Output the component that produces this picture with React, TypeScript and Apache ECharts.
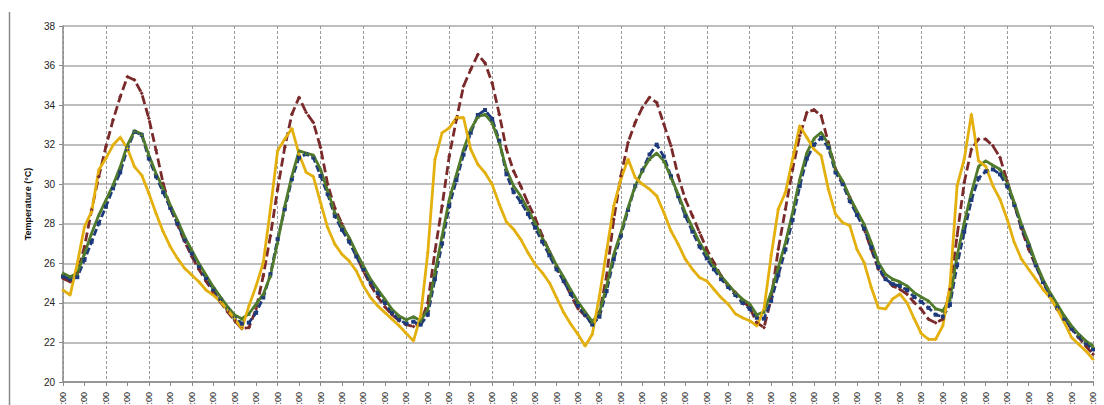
import React, { useEffect, useRef } from "react";
import * as echarts from "echarts";

// hourly readings, 6 days (145 points), starting at 06:00
const startHour = 6;
const timeLabels: string[] = Array.from({ length: 145 }, (_, i) =>
  `${String((startHour + i) % 24).padStart(2, "0")}:00`
);

const yTicks = [20, 22, 24, 26, 28, 30, 32, 34, 36, 38];

const redSeries = [
  25.24, 25.07, 25.5, 26.84, 28.7, 30.38, 31.9, 33.25, 34.42, 35.43, 35.27, 34.6, 33.33, 31.73, 30.05, 28.8, 27.95, 27.1, 26.35, 25.7, 25.1, 24.55, 24.05, 23.55, 23.1,
  22.7, 22.75, 23.7, 25.37, 27.39, 29.75, 31.86, 33.54, 34.39, 33.63, 33.12, 31.86, 30.0, 28.8, 28.0, 27.2, 26.4, 25.6, 24.9, 24.3, 23.8, 23.4, 23.1, 22.9,
  22.8, 23.0, 24.0, 26.6, 28.9, 31.42, 33.27, 34.96, 35.8, 36.56, 36.13, 35.12, 33.53, 31.76, 30.66, 29.9, 29.06, 28.3, 27.4, 26.6, 25.85, 25.1, 24.4, 23.7,
  23.35, 22.92, 23.51, 25.37, 28.23, 30.42, 32.11, 33.12, 33.88, 34.39, 34.13, 33.04, 31.94, 30.42, 29.24, 28.4, 27.56, 26.71, 26.04, 25.37, 24.86, 24.52, 24.1, 23.76,
  23.0, 22.75, 24.19, 26.71, 28.74, 30.76, 32.45, 33.63, 33.76, 33.46, 32.11, 30.76, 30.09, 29.33, 28.57, 27.73, 26.71, 25.7, 25.2, 24.86, 24.69, 24.44, 24.02, 23.68,
  23.17, 23.0, 23.17, 24.69, 27.39, 30.09, 31.77, 32.28, 32.28, 31.94, 31.35, 30.17, 28.99, 27.73, 26.71, 25.87, 25.11, 24.35, 23.68, 23.17, 22.67, 22.25, 21.82, 21.4,
];

const blueSeries = [
  25.35, 25.2, 25.3, 26.17, 27.09, 28.02, 28.86, 29.79, 30.6, 31.8, 32.65, 32.5, 31.3, 30.4, 29.6, 28.8, 28.0, 27.2, 26.5, 25.85, 25.25, 24.7, 24.2, 23.7, 23.25,
  22.95, 23.0, 23.5, 24.27, 25.45, 27.22, 28.74, 30.26, 31.35, 31.52, 31.35, 30.42, 29.5, 28.4, 27.7, 27.1, 26.35, 25.7, 25.05, 24.5, 24.0, 23.5, 23.15, 22.95,
  23.05, 22.9, 23.4, 25.2, 27.0, 28.9, 30.2, 31.5, 32.6, 33.5, 33.75, 33.3, 32.2, 30.5, 29.6, 29.1, 28.5, 27.8, 27.1, 26.4, 25.7, 25.1, 24.45, 23.85,
  23.4, 22.9, 23.3, 24.6, 26.2, 27.4, 28.7, 29.9, 30.7, 31.5, 32.0, 31.4, 30.4, 29.4, 28.4, 27.6, 26.85, 26.25, 25.7, 25.2, 24.8, 24.4, 24.0, 23.7,
  23.25, 23.2, 24.1, 25.4, 26.7, 28.2, 29.9, 31.3, 32.0, 32.35, 31.85, 30.6, 30.0, 29.15, 28.45, 27.75, 26.8, 25.8, 25.2, 24.95, 24.85, 24.65, 24.3, 24.05,
  23.75, 23.4, 23.3, 23.9, 25.9, 27.6, 29.2, 30.3, 30.65, 30.75, 30.5, 29.9, 28.95, 27.85, 26.9, 25.9, 25.05, 24.35, 23.75, 23.2, 22.7, 22.3, 21.95, 21.65,
];

const greenSeries = [
  25.5, 25.32, 25.5, 26.5, 27.52, 28.44, 29.2, 29.96, 30.88, 31.98, 32.7, 32.54, 31.48, 30.55, 29.79, 28.95, 28.19, 27.35, 26.67, 26.0, 25.41, 24.82, 24.31, 23.81, 23.39,
  23.2, 23.45, 23.95, 24.44, 25.37, 27.05, 28.9, 30.42, 31.69, 31.57, 31.47, 30.76, 29.67, 28.57, 27.9, 27.31, 26.55, 25.87, 25.2, 24.69, 24.19, 23.68, 23.34, 23.15,
  23.3, 23.1, 23.68, 25.53, 27.38, 29.23, 30.49, 31.76, 32.77, 33.41, 33.53, 33.1, 32.1, 30.75, 29.91, 29.4, 28.73, 28.05, 27.3, 26.62, 25.9, 25.3, 24.65, 24.05,
  23.55, 23.05, 23.51, 24.86, 26.46, 27.56, 28.82, 29.92, 30.68, 31.27, 31.57, 31.18, 30.34, 29.5, 28.57, 27.81, 27.05, 26.46, 25.87, 25.37, 24.94, 24.52, 24.19, 23.95,
  23.4, 23.55, 24.52, 25.79, 27.05, 28.57, 30.26, 31.6, 32.31, 32.62, 32.03, 30.76, 30.17, 29.33, 28.65, 27.98, 27.05, 26.04, 25.45, 25.2, 25.06, 24.86, 24.52, 24.3,
  24.1, 23.71, 23.6, 24.19, 26.38, 28.06, 29.58, 30.9, 31.18, 30.96, 30.76, 30.09, 29.08, 27.98, 27.05, 26.04, 25.2, 24.52, 23.93, 23.34, 22.84, 22.42, 22.08, 21.82,
];

const goldSeries = [
  24.65, 24.4, 26.0, 27.85, 28.61, 30.72, 31.31, 31.98, 32.37, 31.81, 30.88, 30.46, 29.54, 28.53, 27.6, 26.84, 26.25, 25.75, 25.41, 25.07, 24.65, 24.4, 24.06, 23.64, 23.2,
  22.7, 23.85, 24.86, 26.04, 28.74, 31.69, 32.28, 32.82, 31.52, 30.6, 30.39, 29.08, 27.81, 26.97, 26.46, 26.12, 25.62, 24.86, 24.27, 23.85, 23.51, 23.17, 22.84, 22.45,
  22.08, 23.34, 26.54, 31.25, 32.6, 32.85, 33.36, 33.36, 31.76, 31.0, 30.58, 29.99, 28.98, 28.09, 27.72, 27.21, 26.54, 25.95, 25.53, 25.02, 24.27, 23.51, 22.92, 22.41,
  21.82, 22.41, 24.35, 26.63, 28.91, 30.26, 31.27, 30.34, 30.0, 29.75, 29.41, 28.57, 27.64, 26.97, 26.21, 25.7, 25.28, 25.11, 24.69, 24.27, 23.93, 23.45, 23.25, 23.1,
  22.84, 23.68, 26.38, 28.74, 29.58, 31.27, 32.95, 32.36, 31.77, 31.44, 29.75, 28.49, 28.06, 27.9, 26.71, 26.04, 24.78, 23.75, 23.7, 24.2, 24.45, 24.0, 23.2, 22.45,
  22.16, 22.16, 22.84, 24.86, 29.92, 31.27, 33.54, 31.18, 30.9, 29.92, 29.24, 28.23, 27.05, 26.21, 25.7, 25.2, 24.69, 24.27, 23.68, 23.0, 22.25, 21.91, 21.57, 21.15,
];

const STAR = "path://M5,0L6.2,3.8L10,5L6.2,6.2L5,10L3.8,6.2L0,5L3.8,3.8Z";

export default function App() {
  const ref = useRef<HTMLDivElement>(null);
  useEffect(() => {
    if (!ref.current) return;
    const chart = echarts.init(ref.current, undefined, { renderer: "svg" });
    const font = "'Liberation Sans', Arial, sans-serif";
    const mk = (name: string, data: number[], color: string, dashed: any, symbol: string, size: number) => ({
      name,
      type: "line",
      data,
      showSymbol: true,
      showAllSymbol: true,
      symbol,
      symbolSize: size,
      lineStyle: { color, width: 2.8, type: dashed },
      itemStyle: { color, borderWidth: 0 },
      emphasis: { disabled: true },
    });
    chart.setOption({
      animation: false,
      backgroundColor: "#ffffff",
      textStyle: { fontFamily: font },
      grid: {
        left: 63,
        right: 11,
        top: 26,
        bottom: 23,
        containLabel: false,
        outerBoundsMode: "none",
      },
      graphic: [
        {
          type: "line",
          shape: { x1: 9.5, y1: 12, x2: 9.5, y2: 405 },
          style: { stroke: "#8a8a8a", lineWidth: 1.5 },
        },
      ],
      xAxis: {
        type: "category",
        data: timeLabels,
        boundaryGap: false,
        axisLine: { lineStyle: { color: "#8a8a8a", width: 1.5 } },
        axisTick: { show: true, interval: 2, length: 4, lineStyle: { color: "#8a8a8a" } },
        axisLabel: {
          interval: 2,
          rotate: 90,
          fontSize: 9,
          color: "#222",
          margin: 10,
          fontFamily: font,
        },
        splitLine: {
          show: true,
          interval: 5,
          lineStyle: { color: "#9a9a9a", width: 1, type: [3, 2] },
        },
      },
      yAxis: {
        type: "value",
        min: yTicks[0],
        max: yTicks[yTicks.length - 1],
        interval: 2,
        name: "Temperature (°C)",
        nameLocation: "middle",
        nameGap: 19,
        nameTextStyle: { fontSize: 9, fontWeight: "bold", color: "#111", fontFamily: font },
        axisLine: { show: true, lineStyle: { color: "#8a8a8a", width: 1.5 } },
        axisTick: { show: true, length: 4, lineStyle: { color: "#8a8a8a" } },
        axisLabel: { fontSize: 10, color: "#222", margin: 8, fontFamily: font },
        splitLine: { show: true, lineStyle: { color: "#a8a8a8", width: 1.5 } },
      },
      series: [
        mk("Series 1", redSeries, "#7a2a2a", [9, 4], "diamond", 4),
        mk("Series 2", blueSeries, "#1d3a7c", [7, 3], "rect", 4),
        mk("Series 3", greenSeries, "#507a2c", "solid", "triangle", 4),
        mk("Series 4", goldSeries, "#e3b00e", "solid", STAR, 5),
      ],
    });
    return () => chart.dispose();
  }, []);
  return (
    <div
      ref={ref}
      style={{ position: "fixed", left: 0, top: 0, width: 1104, height: 405, background: "#fff" }}
    />
  );
}
